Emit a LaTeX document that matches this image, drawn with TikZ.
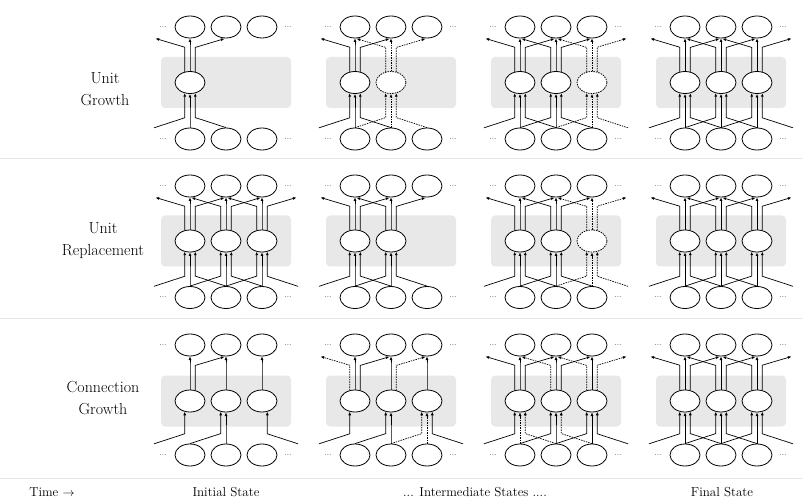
\documentclass[tikz,border=0pt]{standalone}
\usetikzlibrary{shapes.geometric,arrows.meta,calc}
% prefix, cx, T, H, B
\newcommand\mkpanel[5]{%
  \fill[box] (#2-65,#4-25.5) rectangle (#2+65,#4+25.5);
  \node[ghost] (#1t0) at (#2-72,#3) {};
  \node[unit]  (#1t1) at (#2-36,#3) {};
  \node[unit]  (#1t2) at (#2,#3) {};
  \node[unit]  (#1t3) at (#2+36,#3) {};
  \node[ghost] (#1t4) at (#2+72,#3) {};
  \node[ghost] (#1b0) at (#2-72,#5) {};
  \node[unit]  (#1b1) at (#2-36,#5) {};
  \node[unit]  (#1b2) at (#2,#5) {};
  \node[unit]  (#1b3) at (#2+36,#5) {};
  \node[ghost] (#1b4) at (#2+72,#5) {};
  \node[dots] (#1tl) at (#2-63,#3) {...};
  \node[dots] (#1tr) at (#2+62,#3) {...};
  \node[dots] (#1bl) at (#2-63,#5) {...};
  \node[dots] (#1br) at (#2+62,#5) {...};
  \coordinate (#1hp1) at (#2-36,#4);
  \coordinate (#1hp2) at (#2,#4);
  \coordinate (#1hp3) at (#2+36,#4);
}
% style, prefix, k (bottom), j (hidden), d=k-j
\newcommand\incon[5]{%
  \draw[#1] (#2b#3.north) -- ($(#2h#4.south |- #2b#3.north)+({#5*5.3},-10)$) -- ($(#2h#4.south)+({#5*5.3},{-0.75*abs(#5)})$);}
% style, prefix, j (hidden), k (top), d=k-j
\newcommand\outcon[5]{%
  \draw[#1] ($(#2h#3.north)+({#5*5.3},{0.75*abs(#5)})$) -- ($(#2h#3.north |- #2t#4.south)+({#5*5.3},9)$) -- ($(#2t#4.south)+({-#5*1.5},{0.3*abs(#5)})$);}
% style, prefix, j
\newcommand\allin[3]{%
  \pgfmathtruncatemacro\jm{#3-1}\pgfmathtruncatemacro\jp{#3+1}%
  \incon{#1}{#2}{\jm}{#3}{-1}\incon{#1}{#2}{#3}{#3}{0}\incon{#1}{#2}{\jp}{#3}{1}}
\newcommand\allout[3]{%
  \pgfmathtruncatemacro\jm{#3-1}\pgfmathtruncatemacro\jp{#3+1}%
  \outcon{#1}{#2}{#3}{\jm}{-1}\outcon{#1}{#2}{#3}{#3}{0}\outcon{#1}{#2}{#3}{\jp}{1}}
% style, prefix, j
\newcommand\mkhid[3]{\node[#1] (#2h#3) at (#2hp#3) {};}
\newcommand\fullunit[2]{\mkhid{unit}{#1}{#2}\allin{conn}{#1}{#2}\allout{conn}{#1}{#2}}
\newcommand\newunitfull[2]{\mkhid{newunit}{#1}{#2}\allin{newconn}{#1}{#2}\allout{newconn}{#1}{#2}}
\begin{document}
\begin{tikzpicture}[x=1pt,y=-1pt,
  unit/.style={ellipse,draw,fill=white,line width=0.8pt,minimum width=30pt,minimum height=22pt,inner sep=0pt},
  ghost/.style={ellipse,minimum width=30pt,minimum height=22pt,inner sep=0pt},
  newunit/.style={unit,dash pattern=on 1.5pt off 1pt},
  conn/.style={line width=0.7pt,-{Latex[length=3.6pt,width=3pt]}},
  newconn/.style={conn,dash pattern=on 1.5pt off 1pt},
  box/.style={fill=black!9,rounded corners=4pt},
  dots/.style={font=\fontsize{8}{8}\selectfont,inner sep=0pt},
  sep/.style={draw=black!10,line width=1pt},
  rowlabel/.style={align=center,font=\fontsize{16}{22}\selectfont},
  botlabel/.style={font=\fontsize{13}{14}\selectfont}
]
\useasboundingbox (0,0) rectangle (802,502);
\draw[sep] (0,159) -- (802,159);
\draw[sep] (0,318) -- (802,318);
\draw[sep] (0,478) -- (802,478);

\node[rowlabel] (lab1) at (105,89) {Unit\\Growth};
\node[rowlabel] (lab2) at (103,241) {Unit\\Replacement};
\node[rowlabel] (lab3) at (103,398) {Connection\\Growth};

% ---------- Row 1: unit growth
\mkpanel{pa}{226}{27}{82.5}{139}
\fullunit{pa}{1}
\mkpanel{pb}{391}{27}{82.5}{139}
\fullunit{pb}{1}
\newunitfull{pb}{2}
\mkpanel{pc}{556}{27}{82.5}{139}
\fullunit{pc}{1}\fullunit{pc}{2}
\newunitfull{pc}{3}
\mkpanel{pd}{721}{27}{82.5}{139}
\fullunit{pd}{1}\fullunit{pd}{2}\fullunit{pd}{3}

% ---------- Row 2: unit replacement
\mkpanel{qa}{226}{186}{241}{297.5}
\fullunit{qa}{1}\fullunit{qa}{2}\fullunit{qa}{3}
\mkpanel{qb}{391}{186}{241}{297.5}
\fullunit{qb}{1}\fullunit{qb}{2}
\mkpanel{qc}{556}{186}{241}{297.5}
\fullunit{qc}{1}\fullunit{qc}{2}
\newunitfull{qc}{3}
\mkpanel{qd}{721}{186}{241}{297.5}
\fullunit{qd}{1}\fullunit{qd}{2}\fullunit{qd}{3}

% ---------- Row 3: connection growth
\mkpanel{ra}{226}{345}{401}{455}
\mkhid{unit}{ra}{1}\mkhid{unit}{ra}{2}\mkhid{unit}{ra}{3}
\incon{conn}{ra}{0}{1}{-1}\incon{conn}{ra}{1}{2}{-1}\incon{conn}{ra}{2}{2}{0}\incon{conn}{ra}{4}{3}{1}
\outcon{conn}{ra}{1}{1}{0}\outcon{conn}{ra}{1}{2}{1}\outcon{conn}{ra}{2}{2}{0}\outcon{conn}{ra}{3}{3}{0}

\mkpanel{rb}{391}{345}{401}{455}
\mkhid{unit}{rb}{1}\mkhid{unit}{rb}{2}\mkhid{unit}{rb}{3}
\incon{conn}{rb}{0}{1}{-1}\incon{conn}{rb}{1}{2}{-1}\incon{conn}{rb}{2}{2}{0}\incon{conn}{rb}{4}{3}{1}
\incon{newconn}{rb}{2}{3}{-1}\incon{newconn}{rb}{3}{3}{0}
\outcon{conn}{rb}{1}{1}{0}\outcon{conn}{rb}{1}{2}{1}\outcon{conn}{rb}{2}{2}{0}\outcon{conn}{rb}{3}{3}{0}
\outcon{newconn}{rb}{1}{0}{-1}\outcon{newconn}{rb}{2}{3}{1}

\mkpanel{rc}{556}{345}{401}{455}
\mkhid{unit}{rc}{1}\mkhid{unit}{rc}{2}\mkhid{unit}{rc}{3}
\incon{conn}{rc}{0}{1}{-1}\incon{conn}{rc}{1}{2}{-1}\incon{conn}{rc}{2}{2}{0}\incon{conn}{rc}{2}{3}{-1}\incon{conn}{rc}{3}{3}{0}\incon{conn}{rc}{4}{3}{1}
\incon{newconn}{rc}{1}{1}{0}\incon{newconn}{rc}{2}{1}{1}\incon{newconn}{rc}{3}{2}{1}
\outcon{conn}{rc}{1}{0}{-1}\outcon{conn}{rc}{1}{1}{0}\outcon{conn}{rc}{1}{2}{1}\outcon{conn}{rc}{2}{2}{0}\outcon{conn}{rc}{2}{3}{1}\outcon{conn}{rc}{3}{3}{0}
\outcon{newconn}{rc}{2}{1}{-1}\outcon{newconn}{rc}{3}{2}{-1}\outcon{newconn}{rc}{3}{4}{1}

\mkpanel{rd}{721}{345}{401}{455}
\fullunit{rd}{1}\fullunit{rd}{2}\fullunit{rd}{3}

% ---------- bottom labels
\node[botlabel] (time) at (52,492) {Time $\rightarrow$};
\node[botlabel] (init) at (226,492) {Initial State};
\node[botlabel] (inter) at (475,492) {... Intermediate States ....};
\node[botlabel] (final) at (722,492) {Final State};
\end{tikzpicture}
\end{document}
